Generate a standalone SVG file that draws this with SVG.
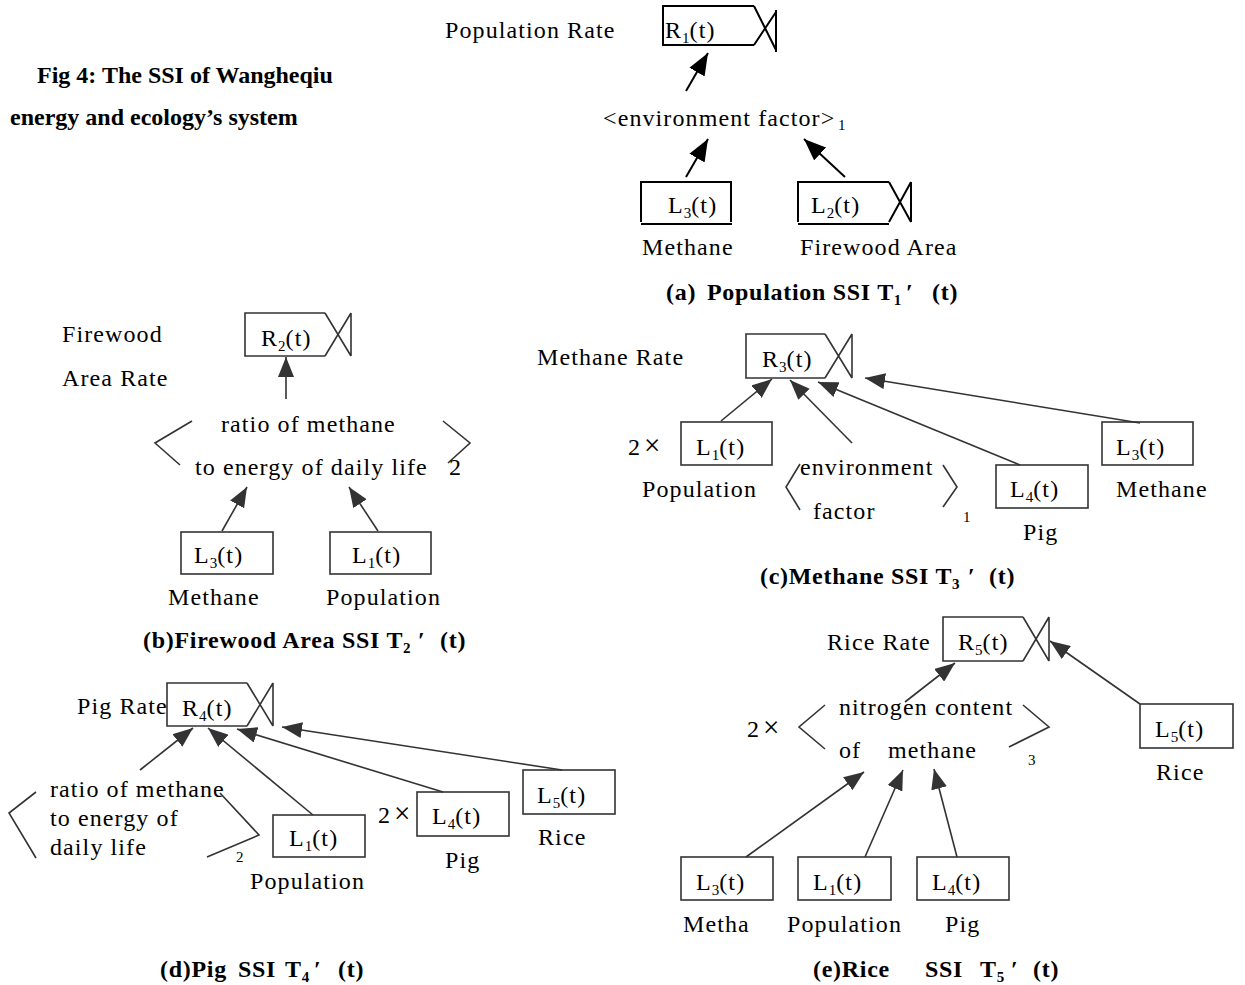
<svg xmlns="http://www.w3.org/2000/svg" width="1245" height="985" viewBox="0 0 1245 985">
<style>
text{font-family:"Liberation Serif","Times New Roman","Noto Sans CJK SC",serif;font-size:24px;fill:#000;letter-spacing:1.1px}
.b{font-weight:bold;letter-spacing:0}
.cap{letter-spacing:0.7px}
.sm{font-size:15px;letter-spacing:0}
.x{font-size:29px}
.box{fill:none;stroke:#333;stroke-width:1.6}
.con{fill:none;stroke:#333;stroke-width:1.6}
.ka{stroke:#000;stroke-width:2}
</style>
<defs>
<marker id="ah" viewBox="0 0 20 16" refX="20" refY="8" markerWidth="20" markerHeight="16" markerUnits="userSpaceOnUse" orient="auto"><path d="M0,0 L20,8 L0,16 Z" fill="#333"/></marker>
<marker id="ahk" viewBox="0 0 20 16" refX="20" refY="8" markerWidth="22" markerHeight="18" markerUnits="userSpaceOnUse" orient="auto"><path d="M0,0 L20,8 L0,16 Z" fill="#000"/></marker>
</defs>
<rect width="1245" height="985" fill="#fff"/>

<g id="title">
<text class="b" x="37" y="83">Fig 4: The SSI of Wangheqiu</text>
<text class="b" x="10" y="125">energy and ecology’s system</text>
</g>

<!-- (a) -->
<g id="a-R1">
<text x="445" y="38">Population Rate</text>
<path class="box ka" d="M754,6 L663,6 L663,45 L754,45 M754,6 L776,50 M754,45 L776,12 M776,10 L776,52"/>
<text x="665" y="38">R<tspan class="sm" dy="5">1</tspan><tspan dy="-5">(t)</tspan></text>
</g>
<g id="a-env">
<text x="603" y="126">&lt;environment factor&gt;</text>
<text class="sm" x="838" y="130">1</text>
</g>
<g id="a-L3">
<path class="box ka" d="M641,222 L641,182 L731,182 L731,222"/>
<path class="box ka" d="M641,224 L732,224" stroke-width="2.5"/>
<text x="668" y="213">L<tspan class="sm" dy="5">3</tspan><tspan dy="-5">(t)</tspan></text>
<text x="642" y="255">Methane</text>
</g>
<g id="a-L2">
<path class="box ka" d="M889,182 L798,182 L798,222 M889,182 L911,222 M889,222 L911,182 M911,182 L911,222"/>
<path class="box ka" d="M798,224 L889,224" stroke-width="2.5"/>
<text x="811" y="213">L<tspan class="sm" dy="5">2</tspan><tspan dy="-5">(t)</tspan></text>
<text x="800" y="255">Firewood Area</text>
</g>
<g id="a-caption"><text class="b cap" x="666" y="300">(a)<tspan x="707">Population SSI T</tspan><tspan class="sm" dy="5">1</tspan><tspan x="906" dy="-5">′</tspan><tspan x="932">(t)</tspan></text></g>

<!-- (b) -->
<g id="b-R2">
<text x="62" y="342">Firewood</text>
<text x="62" y="386">Area Rate</text>
<path class="box" d="M325,313 L245,313 L245,356 L325,356 M325,313 L351,356 M325,356 L351,313 M351,313 L351,356"/>
<text x="261" y="346">R<tspan class="sm" dy="5">2</tspan><tspan dy="-5">(t)</tspan></text>
</g>
<g id="b-ratio">
<path class="box" d="M192,421 L155,443 L180,465"/>
<path class="box" d="M443,421 L470,443 L448,463"/>
<text x="221" y="432">ratio of methane</text>
<text x="195" y="475">to energy of daily life</text>
<text x="449" y="475">2</text>
</g>
<g id="b-L3">
<rect class="box" x="181" y="532" width="92" height="42"/>
<text x="194" y="563">L<tspan class="sm" dy="5">3</tspan><tspan dy="-5">(t)</tspan></text>
<text x="168" y="605">Methane</text>
</g>
<g id="b-L1">
<rect class="box" x="330" y="532" width="101" height="42"/>
<text x="352" y="563">L<tspan class="sm" dy="5">1</tspan><tspan dy="-5">(t)</tspan></text>
<text x="326" y="605">Population</text>
</g>
<g id="b-caption"><text class="b cap" x="143" y="648">(b)Firewood Area SSI T<tspan class="sm" dy="5">2</tspan><tspan x="418" dy="-5">′</tspan><tspan x="440">(t)</tspan></text></g>

<!-- (c) -->
<g id="c-R3">
<text x="537" y="365">Methane Rate</text>
<path class="box" d="M825,334 L746,334 L746,378 L825,378 M825,334 L852,378 M825,378 L852,334 M852,334 L852,378"/>
<text x="762" y="367">R<tspan class="sm" dy="5">3</tspan><tspan dy="-5">(t)</tspan></text>
</g>
<g id="c-L1">
<text x="628" y="455">2<tspan class="x" dx="3">×</tspan></text>
<rect class="box" x="681" y="422" width="91" height="43"/>
<text x="696" y="455">L<tspan class="sm" dy="5">1</tspan><tspan dy="-5">(t)</tspan></text>
<text x="642" y="497">Population</text>
</g>
<g id="c-env">
<path class="box" d="M800,464 L786,487 L800,510"/>
<text x="800" y="475">environment</text>
<text x="813" y="519">factor</text>
<path class="box" d="M943,465 L957,487 L943,507"/>
<text class="sm" x="963" y="522">1</text>
</g>
<g id="c-L4">
<rect class="box" x="996" y="465" width="92" height="43"/>
<text x="1010" y="497">L<tspan class="sm" dy="5">4</tspan><tspan dy="-5">(t)</tspan></text>
<text x="1023" y="540">Pig</text>
</g>
<g id="c-L3">
<rect class="box" x="1102" y="422" width="91" height="43"/>
<text x="1116" y="455">L<tspan class="sm" dy="5">3</tspan><tspan dy="-5">(t)</tspan></text>
<text x="1116" y="497">Methane</text>
</g>
<g id="c-caption"><text class="b cap" x="760" y="584">(c)Methane SSI T<tspan class="sm" dy="5">3</tspan><tspan x="968" dy="-5">′</tspan><tspan x="989">(t)</tspan></text></g>

<!-- (d) -->
<g id="d-R4">
<text x="77" y="714">Pig Rate</text>
<path class="box" d="M247,683 L167,683 L167,726 L247,726 M247,683 L273,726 M247,726 L273,683 M273,683 L273,726"/>
<text x="182" y="716">R<tspan class="sm" dy="5">4</tspan><tspan dy="-5">(t)</tspan></text>
</g>
<g id="d-ratio">
<path class="box" d="M36,792 L9,813 L36,858"/>
<text x="50" y="797">ratio of methane</text>
<text x="50" y="826">to energy of</text>
<text x="50" y="855">daily life</text>
<path class="box" d="M220,793 L259,835 L207,857"/>
<text class="sm" x="236" y="862">2</text>
</g>
<g id="d-L1">
<rect class="box" x="273" y="815" width="92" height="42"/>
<text x="289" y="846">L<tspan class="sm" dy="5">1</tspan><tspan dy="-5">(t)</tspan></text>
<text x="250" y="889">Population</text>
</g>
<g id="d-L4">
<text x="378" y="823">2<tspan class="x" dx="3">×</tspan></text>
<rect class="box" x="417" y="792" width="92" height="44"/>
<text x="432" y="824">L<tspan class="sm" dy="5">4</tspan><tspan dy="-5">(t)</tspan></text>
<text x="445" y="868">Pig</text>
</g>
<g id="d-L5">
<rect class="box" x="523" y="770" width="92" height="44"/>
<text x="537" y="803">L<tspan class="sm" dy="5">5</tspan><tspan dy="-5">(t)</tspan></text>
<text x="538" y="845">Rice</text>
</g>
<g id="d-caption"><text class="b cap" x="160" y="977">(d)Pig<tspan x="238">SSI</tspan><tspan x="285">T</tspan><tspan class="sm" dy="5">4</tspan><tspan x="314" dy="-5">′</tspan><tspan x="338">(t)</tspan></text></g>

<!-- (e) -->
<g id="e-R5">
<text x="827" y="650">Rice Rate</text>
<path class="box" d="M1023,617 L943,617 L943,661 L1023,661 M1023,617 L1049,661 M1023,661 L1049,617 M1049,617 L1049,661"/>
<text x="958" y="650">R<tspan class="sm" dy="5">5</tspan><tspan dy="-5">(t)</tspan></text>
</g>
<g id="e-nitro">
<text x="747" y="737">2<tspan class="x" dx="3">×</tspan></text>
<path class="box" d="M825,705 L799,727 L825,749"/>
<text x="839" y="715">nitrogen content</text>
<text x="839" y="758">of</text>
<text x="888" y="758">methane</text>
<path class="box" d="M1023,705 L1049,727 L1009,747"/>
<text class="sm" x="1028" y="765">3</text>
</g>
<g id="e-L5">
<rect class="box" x="1140" y="704" width="93" height="44"/>
<text x="1155" y="737">L<tspan class="sm" dy="5">5</tspan><tspan dy="-5">(t)</tspan></text>
<text x="1156" y="780">Rice</text>
</g>
<g id="e-L3">
<rect class="box" x="681" y="857" width="92" height="43"/>
<text x="696" y="890">L<tspan class="sm" dy="5">3</tspan><tspan dy="-5">(t)</tspan></text>
<text x="683" y="932">Metha</text>
</g>
<g id="e-L1">
<rect class="box" x="798" y="857" width="93" height="43"/>
<text x="813" y="890">L<tspan class="sm" dy="5">1</tspan><tspan dy="-5">(t)</tspan></text>
<text x="787" y="932">Population</text>
</g>
<g id="e-L4">
<rect class="box" x="917" y="857" width="92" height="43"/>
<text x="932" y="890">L<tspan class="sm" dy="5">4</tspan><tspan dy="-5">(t)</tspan></text>
<text x="945" y="932">Pig</text>
</g>
<g id="e-caption"><text class="b cap" x="813" y="977">(e)Rice<tspan x="925">SSI</tspan><tspan x="980">T</tspan><tspan class="sm" dy="5">5</tspan><tspan x="1011" dy="-5">′</tspan><tspan x="1033">(t)</tspan></text></g>

<g id="connectors">
<path class="con ka" marker-end="url(#ahk)" d="M686,91 L708,53"/>
<path class="con ka" marker-end="url(#ahk)" d="M686,177 L708,139"/>
<path class="con ka" marker-end="url(#ahk)" d="M845,177 L804,139"/>
<path class="con" marker-end="url(#ah)" d="M286,399 L286,357"/>
<path class="con" marker-end="url(#ah)" d="M222,531 L247,487"/>
<path class="con" marker-end="url(#ah)" d="M378,531 L349,487"/>
<path class="con" marker-end="url(#ah)" d="M721,421 L772,379"/>
<path class="con" marker-end="url(#ah)" d="M852,443 L790,380"/>
<path class="con" marker-end="url(#ah)" d="M1020,465 L818,382"/>
<path class="con" marker-end="url(#ah)" d="M1140,423 L865,378"/>
<path class="con" marker-end="url(#ah)" d="M140,770 L193,728"/>
<path class="con" marker-end="url(#ah)" d="M313,815 L208,728"/>
<path class="con" marker-end="url(#ah)" d="M443,792 L237,729"/>
<path class="con" marker-end="url(#ah)" d="M562,770 L282,727"/>
<path class="con" marker-end="url(#ah)" d="M905,702 L955,663"/>
<path class="con" marker-end="url(#ah)" d="M1140,704 L1050,641"/>
<path class="con" marker-end="url(#ah)" d="M746,857 L864,772"/>
<path class="con" marker-end="url(#ah)" d="M865,857 L903,770"/>
<path class="con" marker-end="url(#ah)" d="M957,857 L934,769"/>
</g>
</svg>
